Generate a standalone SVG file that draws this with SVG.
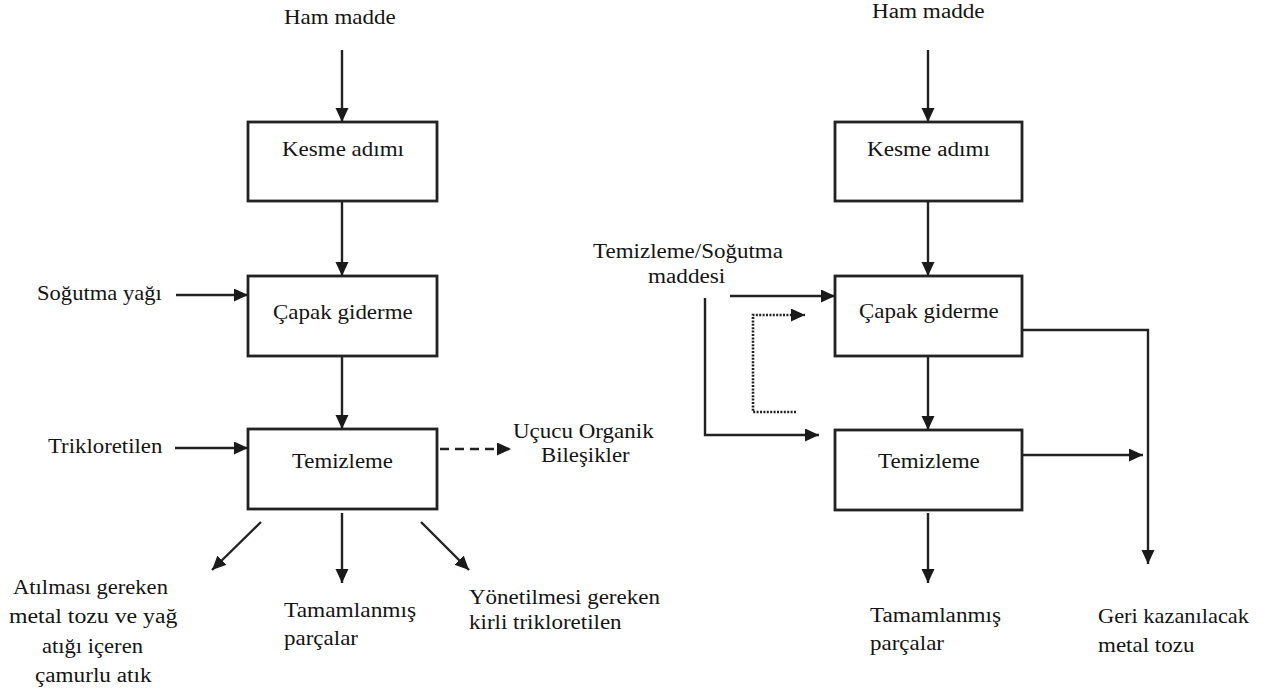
<svg xmlns="http://www.w3.org/2000/svg" width="1272" height="694" viewBox="0 0 1272 694">
  <style>
    .box { fill: #ffffff; stroke: #222222; stroke-width: 2.8; }
    .lbl { font-size: 20px; fill: #141414; }
    .ln { fill: none; stroke: #222222; stroke-width: 2.4; }
    .arr { marker-end: url(#head); }
    .dash { stroke-dasharray: 9 6; }
    .dot { stroke-dasharray: 2 1.4; stroke-width: 2.6; }
  </style>
  <defs>
    <marker id="head" markerUnits="userSpaceOnUse" markerWidth="16" markerHeight="14" refX="14" refY="6.5" orient="auto">
      <path d="M0,0 L14,6.5 L0,13 Z" fill="#1a1a1a"/>
    </marker>
  </defs>
  <rect width="1272" height="694" fill="#ffffff"/>

  <!-- connectors -->
  <g id="connectors">
    <!-- left process chain -->
    <path class="ln arr" d="M342,50 V122"/>
    <path class="ln arr" d="M342,201 V276"/>
    <path class="ln arr" d="M176,295 H248"/>
    <path class="ln arr" d="M342,356 V429"/>
    <path class="ln arr" d="M175,448 H248"/>
    <path class="ln arr dash" d="M440,449 H511"/>
    <path class="ln arr" d="M261,522 L212,570"/>
    <path class="ln arr" d="M342,513 V583"/>
    <path class="ln arr" d="M421,522 L469,570"/>
    <!-- right process chain -->
    <path class="ln arr" d="M928,50 V122"/>
    <path class="ln arr" d="M928,201 V276"/>
    <path class="ln arr" d="M730,296 H835"/>
    <path class="ln arr" d="M705,298 V435 H819"/>
    <path class="ln arr dot" d="M796,412 H753 V315 H805"/>
    <path class="ln arr" d="M928,356 V430"/>
    <path class="ln arr" d="M1022,330 H1148 V564"/>
    <path class="ln arr" d="M1022,455 H1143"/>
    <path class="ln arr" d="M928,513 V583"/>
  </g>

  <g id="nodes" font-family="Liberation Serif, Times New Roman, serif">
    <!-- left flow; labels are drawn slightly wide (scale on x) -->
    <g id="left-ham-madde">
      <text class="lbl" transform="translate(284,24) scale(1.15,1)">Ham madde</text>
    </g>
    <g id="left-kesme">
      <rect class="box" x="248" y="122" width="189" height="79"/>
      <text class="lbl" transform="translate(282,156) scale(1.15,1)">Kesme adımı</text>
    </g>
    <g id="left-sogutma-yagi">
      <text class="lbl" transform="translate(37,300) scale(1.13,1)">Soğutma yağı</text>
    </g>
    <g id="left-capak">
      <rect class="box" x="248" y="276" width="189" height="80"/>
      <text class="lbl" transform="translate(273,319) scale(1.15,1)">Çapak giderme</text>
    </g>
    <g id="left-trikloretilen">
      <text class="lbl" transform="translate(48,453) scale(1.14,1)">Trikloretilen</text>
    </g>
    <g id="left-temizleme">
      <rect class="box" x="248" y="429" width="189" height="80"/>
      <text class="lbl" transform="translate(292,468) scale(1.14,1)">Temizleme</text>
    </g>
    <g id="left-voc">
      <text class="lbl" transform="translate(513,438) scale(1.15,1)">Uçucu Organik</text>
      <text class="lbl" transform="translate(541,462) scale(1.14,1)">Bileşikler</text>
    </g>
    <g id="left-sludge">
      <text class="lbl" transform="translate(13,594) scale(1.13,1)">Atılması gereken</text>
      <text class="lbl" transform="translate(9,623) scale(1.19,1)">metal tozu ve yağ</text>
      <text class="lbl" transform="translate(42,653) scale(1.13,1)">atığı içeren</text>
      <text class="lbl" transform="translate(35,682) scale(1.16,1)">çamurlu atık</text>
    </g>
    <g id="left-parts">
      <text class="lbl" transform="translate(284,617) scale(1.17,1)">Tamamlanmış</text>
      <text class="lbl" transform="translate(284,645) scale(1.15,1)">parçalar</text>
    </g>
    <g id="left-dirty-tce">
      <text class="lbl" transform="translate(469,604) scale(1.15,1)">Yönetilmesi gereken</text>
      <text class="lbl" transform="translate(469,629) scale(1.15,1)">kirli trikloretilen</text>
    </g>

    <!-- right flow -->
    <g id="right-ham-madde">
      <text class="lbl" transform="translate(872,18) scale(1.16,1)">Ham madde</text>
    </g>
    <g id="right-kesme">
      <rect class="box" x="835" y="122" width="187" height="79"/>
      <text class="lbl" transform="translate(867,156) scale(1.16,1)">Kesme adımı</text>
    </g>
    <g id="right-agent">
      <text class="lbl" transform="translate(593,258) scale(1.15,1)">Temizleme/Soğutma</text>
      <text class="lbl" transform="translate(648,283) scale(1.16,1)">maddesi</text>
    </g>
    <g id="right-capak">
      <rect class="box" x="835" y="276" width="187" height="80"/>
      <text class="lbl" transform="translate(859,318) scale(1.15,1)">Çapak giderme</text>
    </g>
    <g id="right-temizleme">
      <rect class="box" x="835" y="430" width="187" height="80"/>
      <text class="lbl" transform="translate(878,468) scale(1.15,1)">Temizleme</text>
    </g>
    <g id="right-parts">
      <text class="lbl" transform="translate(870,622) scale(1.16,1)">Tamamlanmış</text>
      <text class="lbl" transform="translate(870,650) scale(1.15,1)">parçalar</text>
    </g>
    <g id="right-metal-dust">
      <text class="lbl" transform="translate(1098,623) scale(1.12,1)">Geri kazanılacak</text>
      <text class="lbl" transform="translate(1098,652) scale(1.15,1)">metal tozu</text>
    </g>
  </g>
</svg>
